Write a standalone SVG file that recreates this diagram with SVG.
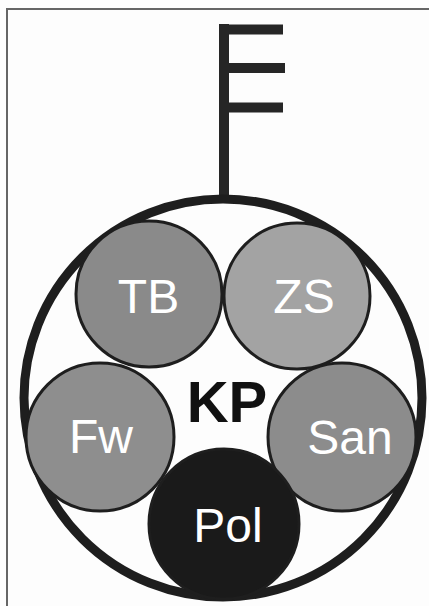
<svg xmlns="http://www.w3.org/2000/svg" width="429" height="606" viewBox="0 0 429 606">
<style>
.node{stroke:#1e1e1e;stroke-width:3}
.lbl{font-family:"Liberation Sans",Arial,sans-serif;font-size:48px;fill:#fff;text-anchor:middle}
.key{stroke:#262626;stroke-width:10;fill:none}
</style>
<rect width="429" height="606" fill="#fdfdfd"/>
<path d="M7,606 V9 H429" fill="none" stroke="#666" stroke-width="2"/>
<g id="key">
<path class="key" d="M224,24 V196"/>
<path class="key" d="M219,29.5 H283 M219,68 H285 M219,107.5 H283" stroke-linecap="butt"/>
</g>
<g id="outer">
<circle cx="223" cy="398" r="199" fill="none" stroke="#1e1e1e" stroke-width="9"/>
</g>
<g id="TB"><circle class="node" cx="149" cy="294" r="73" fill="#8a8a8a"/><text class="lbl" x="148.5" y="313">TB</text></g>
<g id="ZS"><circle class="node" cx="297" cy="296" r="73" fill="#a3a3a3"/><text class="lbl" x="304" y="313">ZS</text></g>
<g id="Fw"><circle class="node" cx="100" cy="437" r="74" fill="#8e8e8e"/><text class="lbl" x="101" y="453">Fw</text></g>
<g id="San"><circle class="node" cx="342" cy="437" r="74" fill="#8c8c8c"/><text class="lbl" x="350" y="454">San</text></g>
<g id="Pol"><circle class="node" cx="224" cy="524" r="75" fill="#1a1a1a"/><text class="lbl" x="228" y="542">Pol</text></g>
<g id="KP"><text x="227" y="422" font-family="'Liberation Sans',Arial,sans-serif" font-size="58" font-weight="bold" fill="#111" text-anchor="middle">KP</text></g>
</svg>
